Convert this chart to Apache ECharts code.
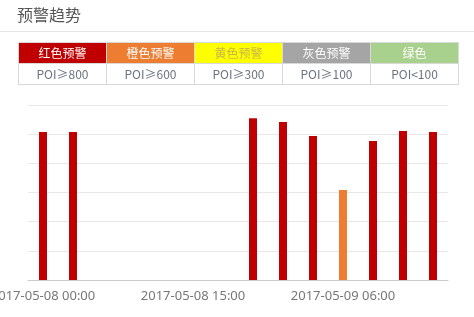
<!DOCTYPE html>
<html><head><meta charset="utf-8">
<script src="https://cdn.jsdelivr.net/npm/echarts@6/dist/echarts.min.js"></script>
<style>
html,body{margin:0;padding:0;background:#fff;width:474px;height:317px;overflow:hidden;font-family:"Noto Sans CJK SC","Noto Sans",sans-serif;}
#title{position:absolute;left:17px;top:3px;font-size:16px;color:#555;line-height:22px;}
#hr{position:absolute;left:0;top:31px;width:474px;height:1px;background:#e5e5e5;}
#leg{position:absolute;left:18px;top:42px;border-collapse:collapse;font-size:12px;}
#leg td{width:87px;height:20px;padding:0;text-align:center;border:1px solid #d9d9d9;line-height:20px;}
#leg tr.r2 td{color:#6b7280;}
#chart{position:absolute;left:0;top:0;width:474px;height:317px;}
</style></head>
<body>
<div id="chart"></div>
<div id="title">预警趋势</div>
<div id="hr"></div>
<table id="leg"><tbody><tr id="r1"></tr><tr class="r2" id="r2"></tr></tbody></table>
<script>
const legendNames = ['红色预警','橙色预警','黄色预警','灰色预警','绿色'];
const legendRanges = ['POI≥800','POI≥600','POI≥300','POI≥100','POI<100'];
const legendBg = ['#c00000','#ed7d31','#ffff00','#a5a5a5','#a9d18e'];
const legendFg = ['#ffffff','#ffffff','#c9b44a','#ffffff','#ffffff'];
const categories = ['2017-05-08 00:00','2017-05-08 03:00','2017-05-08 06:00','2017-05-08 09:00','2017-05-08 12:00','2017-05-08 15:00','2017-05-08 18:00','2017-05-08 21:00','2017-05-09 00:00','2017-05-09 03:00','2017-05-09 06:00','2017-05-09 09:00','2017-05-09 12:00','2017-05-09 15:00'];
const values = [1015, 1015, null, null, null, null, null, 1110, 1083, 987, 617, 953, 1022, 1015];

const r1 = document.getElementById('r1'), r2 = document.getElementById('r2');
legendNames.forEach((n,i)=>{
  const a=document.createElement('td'); a.textContent=n; a.style.background=legendBg[i]; a.style.color=legendFg[i]; r1.appendChild(a);
  const b=document.createElement('td'); b.textContent=legendRanges[i]; r2.appendChild(b);
});

function colorFor(v){
  if(v>=800) return legendBg[0];
  if(v>=600) return legendBg[1];
  if(v>=300) return legendBg[2];
  if(v>=100) return legendBg[3];
  return legendBg[4];
}
const chart = echarts.init(document.getElementById('chart'));
chart.setOption({
  animation:false,
  grid:{left:28,right:26,top:105,bottom:37,containLabel:false,outerBoundsMode:'none'},
  xAxis:{type:'category',data:categories,
    axisLine:{lineStyle:{color:'#cccccc'}},axisTick:{show:false},
    axisLabel:{interval:4,color:'#777',fontSize:13,margin:10,fontFamily:'Noto Sans',hideOverlap:false}},
  yAxis:{type:'value',min:0,max:1200,interval:200,axisLabel:{show:false},axisLine:{show:false},axisTick:{show:false},
    splitLine:{lineStyle:{color:'#e8e8e8'}}},
  series:[{type:'bar',barWidth:8,data:values.map(v=>v==null?null:{value:v,itemStyle:{color:colorFor(v)}})}]
});
</script>
</body></html>
